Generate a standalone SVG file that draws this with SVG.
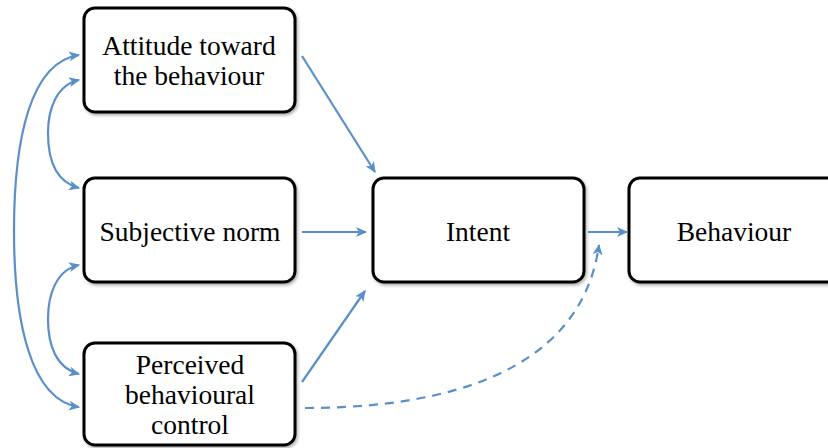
<svg xmlns="http://www.w3.org/2000/svg" width="828" height="448" viewBox="0 0 828 448">
<style>
.box{fill:#ffffff;stroke:#000000;stroke-width:3}
.lbl{font-size:27.5px;fill:#000000;text-anchor:middle}
.con{fill:none;stroke:#5b8fc9;stroke-width:2.2}
.dash{stroke-dasharray:9 7}
</style>
<defs>
<marker id="ah" viewBox="0 0 10 10" refX="9" refY="5" markerWidth="5" markerHeight="5" orient="auto-start-reverse" markerUnits="strokeWidth">
<path d="M0,0.5 L10,5 L0,9.5 L2.5,5 Z" fill="#5b8fc9"/>
</marker>
<filter id="sh" x="-5%" y="-5%" width="115%" height="115%">
<feDropShadow dx="1.5" dy="2" stdDeviation="1.5" flood-color="#000" flood-opacity="0.3"/>
</filter>
</defs>
<g font-family="Liberation Serif">
<g id="attitude">
<rect class="box" x="84" y="8" width="211" height="104" rx="11" filter="url(#sh)"/>
<text class="lbl" x="189" y="55">Attitude toward</text>
<text class="lbl" x="189" y="85">the behaviour</text>
</g>
<g id="subjective">
<rect class="box" x="84" y="178" width="211" height="104" rx="11" filter="url(#sh)"/>
<text class="lbl" x="190" y="241">Subjective norm</text>
</g>
<g id="perceived">
<rect class="box" x="84" y="343" width="211" height="102" rx="11" filter="url(#sh)"/>
<text class="lbl" x="190" y="374">Perceived</text>
<text class="lbl" x="190" y="404">behavioural</text>
<text class="lbl" x="190" y="434">control</text>
</g>
<g id="intent">
<rect class="box" x="373" y="178" width="211" height="104" rx="11" filter="url(#sh)"/>
<text class="lbl" x="478" y="241">Intent</text>
</g>
<g id="behaviour">
<rect class="box" x="629" y="178" width="215" height="104" rx="11" filter="url(#sh)"/>
<text class="lbl" x="734" y="241">Behaviour</text>
</g>
</g>
<g id="connectors">
<path class="con" d="M302,56 L375,172" marker-end="url(#ah)"/>
<path class="con" d="M302,232 L366,232" marker-end="url(#ah)"/>
<path class="con" d="M302,382 L365,291" marker-end="url(#ah)"/>
<path class="con" d="M588,232 L627,232" marker-end="url(#ah)"/>
<path class="con dash" d="M305,408 C430,408 580,380 599,245" marker-end="url(#ah)"/>
<path class="con" d="M79,55 C30,62 14,140 14,231 C14,320 30,400 79,407" marker-start="url(#ah)" marker-end="url(#ah)"/>
<path class="con" d="M79,80 C56,85 48,110 48,133 C48,160 56,182 79,188" marker-start="url(#ah)" marker-end="url(#ah)"/>
<path class="con" d="M79,265 C56,270 48,295 48,319 C48,345 56,368 79,374" marker-start="url(#ah)" marker-end="url(#ah)"/>
</g>
</svg>
